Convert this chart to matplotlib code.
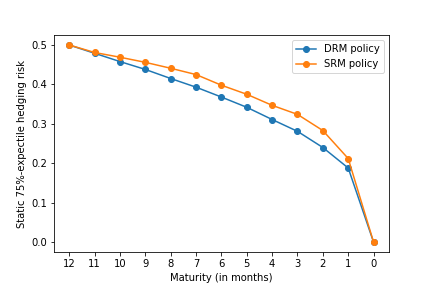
import matplotlib
matplotlib.use("Agg")
import matplotlib.pyplot as plt

maturity = [12, 11, 10, 9, 8, 7, 6, 5, 4, 3, 2, 1, 0]
drm_risk = [0.500, 0.479, 0.458, 0.438, 0.415, 0.393, 0.368, 0.342, 0.311, 0.281, 0.240, 0.188, 0.0]
srm_risk = [0.500, 0.481, 0.469, 0.456, 0.441, 0.425, 0.398, 0.375, 0.347, 0.324, 0.283, 0.212, 0.0]

fig, ax = plt.subplots(figsize=(6, 4), dpi=72)
fig.subplots_adjust(left=0.125, right=0.9, top=0.878, bottom=0.125)

ax.plot(maturity, drm_risk, marker="o", label="DRM policy")
ax.plot(maturity, srm_risk, marker="o", label="SRM policy")

ax.set_xticks(maturity)
ax.invert_xaxis()
ax.set_xlabel("Maturity (in months)")
ax.set_ylabel("Static 75%-expectile hedging risk")
ax.legend()

fig.savefig("out.png", dpi=72)
